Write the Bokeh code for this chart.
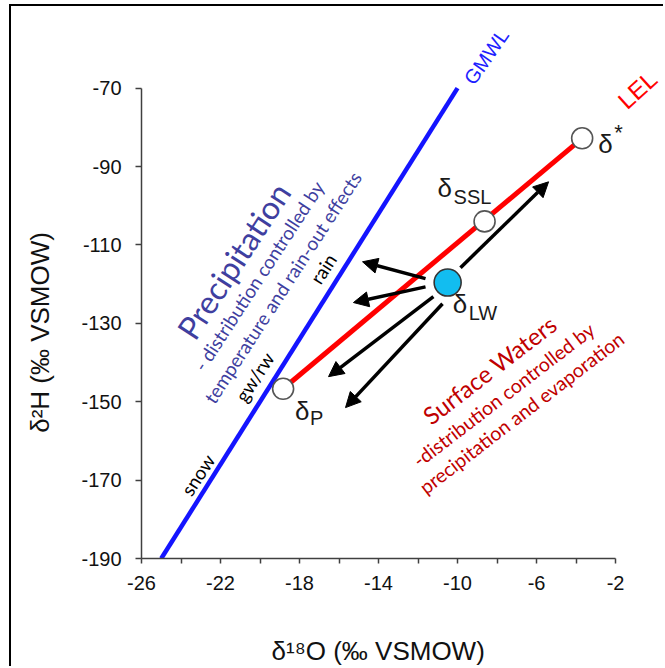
from bokeh.plotting import figure
from bokeh.models import Arrow, NormalHead, FixedTicker, Range1d, CustomJSTickFormatter
from bokeh.core.properties import value
from bokeh.embed import file_html
from bokeh.resources import INLINE

# Global meteoric water line end points (δ18O, δ2H in ‰ VSMOW)
gmwl_d18o = [-25.0, -10.0]
gmwl_d2h = [-190.0, -70.0]

# Local evaporation line: from precipitation to limiting isotopic composition
lel_d18o = [-18.83, -3.69]
lel_d2h = [-146.7, -82.8]

# Open reference points on the LEL: δP, δSSL, δ*
ref_d18o = [-18.83, -8.63, -3.69]
ref_d2h = [-146.7, -104.0, -82.8]

# Lake water
lw_d18o = [-10.5]
lw_d2h = [-119.6]

# Arrows showing possible shifts of lake water composition
arr_x0 = [-11.62, -11.62, -11.22, -10.76, -9.85]
arr_y0 = [-118.6, -120.7, -123.2, -125.0, -115.8]
arr_x1 = [-14.81, -15.27, -16.53, -15.67, -5.39]
arr_y1 = [-114.3, -124.7, -143.6, -151.5, -93.9]

x_ticks = [-26, -22, -18, -14, -10, -6, -2]
x_minor = [-24, -20, -16, -12, -8, -4]
y_ticks = [-190, -170, -150, -130, -110, -90, -70]

# frame reaches past the axis bounds so the line names fit beside the lines
p = figure(width=654, height=662, output_backend="svg", toolbar_location=None,
           x_range=Range1d(-26, 0.53), y_range=Range1d(-190, -50.7),
           min_border_left=130, min_border_right=0, min_border_top=6,
           min_border_bottom=109, margin=(4, 0, 0, 9),
           styles={"border-left": "2px solid black",
                   "border-top": "2px solid black"})
p.outline_line_color = None
p.xgrid.visible = False
p.ygrid.visible = False
p.background_fill_color = "white"
p.border_fill_color = "white"

axis_color = "#404040"
arial = "Liberation Sans"
plain_ticks = CustomJSTickFormatter(code="return tick.toString()")
pad = "\u00a0"

xa = p.xaxis[0]
xa.bounds = (-26, -2)
xa.ticker = FixedTicker(ticks=x_ticks, minor_ticks=x_minor)
xa.axis_label = "δ¹⁸O (‰ VSMOW)" + pad * 7
ya = p.yaxis[0]
ya.bounds = (-190, -70)
ya.ticker = FixedTicker(ticks=y_ticks, minor_ticks=[])
ya.axis_label = "δ²H (‰ VSMOW)" + pad * 13

for ax in (xa, ya):
    ax.formatter = plain_ticks
    ax.axis_line_color = axis_color
    ax.axis_line_width = 1.5
    ax.major_tick_line_color = axis_color
    ax.minor_tick_line_color = axis_color
    ax.major_tick_line_width = 1.5
    ax.minor_tick_line_width = 1.5
    ax.major_tick_in = 0
    ax.minor_tick_in = 0
    ax.major_label_text_font = arial
    ax.major_label_text_font_size = "20px"
    ax.major_label_text_color = "#111111"
    ax.axis_label_text_font = arial
    ax.axis_label_text_font_size = "26px"
    ax.axis_label_text_font_style = "normal"
    ax.axis_label_text_color = "#111111"

xa.major_tick_out = 5
xa.minor_tick_out = 5
xa.major_label_standoff = 12
xa.axis_label_standoff = 43
ya.major_tick_out = 6
ya.minor_tick_out = 0
ya.major_label_standoff = 14
ya.axis_label_standoff = 23

# lines
p.line(gmwl_d18o, gmwl_d2h, line_color="#1414ff", line_width=4.5)
p.line(lel_d18o, lel_d2h, line_color="#ff0000", line_width=5)

# arrows
for x0, y0, x1, y1 in zip(arr_x0, arr_y0, arr_x1, arr_y1):
    p.add_layout(Arrow(x_start=x0, y_start=y0, x_end=x1, y_end=y1,
                       line_color="black", line_width=3.5,
                       end=NormalHead(size=15, fill_color="black",
                                      line_color="black", line_width=1)))

# points
p.scatter(ref_d18o, ref_d2h, size=21, fill_color="white",
          line_color="#555555", line_width=1.6)
p.scatter(lw_d18o, lw_d2h, size=27, fill_color="#12bdf0",
          line_color="#333333", line_width=1.6)

# δ labels beside points
delta_font = value(arial)
lab_x = [ref_d18o[0], ref_d18o[1], lw_d18o[0], ref_d18o[2]]
lab_y = [ref_d2h[0], ref_d2h[1], lw_d2h[0], ref_d2h[2]]
p.text(lab_x, lab_y, text=["δ"] * 4, x_offset=[12, -47, 5, 16],
       y_offset=[22, -33, 21, 6], text_font=delta_font,
       text_font_size="26px", text_color="#1a1a1a",
       text_align="left", text_baseline="alphabetic")
p.text(lab_x[:3], lab_y[:3], text=["P", "SSL", "LW"], x_offset=[27, -31, 21],
       y_offset=[29, -24, 30], text_font=delta_font, text_font_size="20px",
       text_color="#1a1a1a", text_align="left", text_baseline="alphabetic")
p.text(lab_x[3:], lab_y[3:], text=["*"], x_offset=[32], y_offset=[-18],
       text_font=delta_font, text_font_size="22px", text_color="#1a1a1a",
       text_align="left", text_baseline="top")

# line names
p.text([-9.44], [-68.47], text=["GMWL"], angle=55, angle_units="deg",
       text_font=delta_font, text_font_size="20px",
       text_color="#1e1eff", text_baseline="alphabetic")
p.text([-1.70], [-74.07], text=["LEL"], angle=42, angle_units="deg",
       text_font=delta_font, text_font_size="24px",
       text_color="#ff0000", text_baseline="alphabetic")

note_font = value("Lato")

# precipitation note
p.text([-21.35, -20.07, -18.86], [-114.05, -117.9, -120.8],
       text=["Precipitation", "- distribution controlled by",
             "temperature and rain-out effects"],
       angle=57, angle_units="deg", text_font=note_font,
       text_font_size=["32px", "19px", "19px"], text_color="#3f3f9f",
       text_align="center", text_baseline="alphabetic")

# precipitation types along the GMWL
p.text([-23.77, -21.03, -17.24], [-173.4, -149.45, -119.4],
       text=["snow", "gw/rw", "rain"], angle=57, angle_units="deg",
       text_font=note_font, text_font_size="19px", text_color="black",
       text_align="left", text_baseline="alphabetic")

# surface water note
p.text([-8.38, -7.67, -6.76], [-141.8, -148.2, -152.8],
       text=["Surface Waters", "-distribution controlled by",
             "precipitation and evaporation"],
       angle=37.5, angle_units="deg", text_font=note_font,
       text_font_size=["24px", "19.5px", "19.5px"], text_color="#c00000",
       text_align="center", text_baseline="alphabetic")

open("out.html", "w").write(file_html(p, INLINE))
